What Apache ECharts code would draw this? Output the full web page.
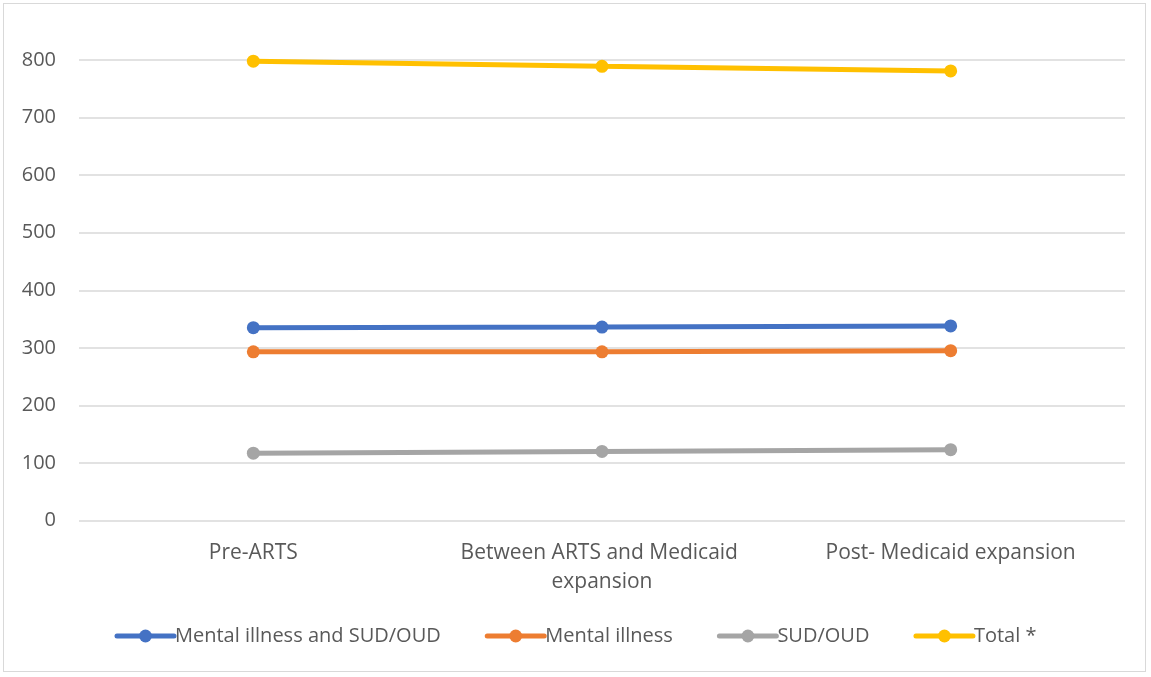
<!DOCTYPE html>
<html>
<head>
<meta charset="utf-8">
<script src="https://cdn.jsdelivr.net/npm/echarts@6/dist/echarts.min.js"></script>
<style>
  html, body { margin: 0; padding: 0; background: #fff; }
  #frame { position: absolute; left: 3px; top: 3px; width: 1143px; height: 669px; border: 1px solid #d9d9d9; box-sizing: border-box; }
  #chart { position: absolute; left: 0; top: 0; width: 1151px; height: 677px; }
</style>
</head>
<body>
<div id="frame"></div>
<div id="chart"></div>
<script>
// Periods compared
const periods = ['Pre-ARTS', 'Between ARTS and Medicaid expansion', 'Post- Medicaid expansion'];

// Counts per period for each group
const mentalIllnessAndSud = [335, 336, 338];
const mentalIllness = [293, 293, 295];
const sudOud = [117, 120, 123];
const total = [798, 789, 781];

const seriesNames = ['Mental illness and SUD/OUD', 'Mental illness', 'SUD/OUD', 'Total *'];
const seriesColors = ['#4472c4', '#ed7d31', '#a5a5a5', '#ffc000'];
const seriesData = [mentalIllnessAndSud, mentalIllness, sudOud, total];

const FONT = '"Open Sans", "Noto Sans", sans-serif';

const chart = echarts.init(document.getElementById('chart'), null, { renderer: 'canvas' });

chart.setOption({
  animation: false,
  textStyle: { fontFamily: FONT },
  grid: { left: 79, right: 26, top: 60, bottom: 156.5, containLabel: false },
  legend: {
    bottom: 26,
    left: 'center',
    itemWidth: 57,
    itemHeight: 16,
    itemGap: 44,
    textStyle: { color: '#595959', fontSize: 20, fontFamily: FONT, padding: [0, 0, 0, -4] },
    data: seriesNames.map((n, i) => ({
      name: n,
      lineStyle: { width: 5, color: seriesColors[i] },
      itemStyle: { color: seriesColors[i] }
    }))
  },
  xAxis: {
    type: 'category',
    data: periods,
    boundaryGap: true,
    axisLine: { show: false },
    axisTick: { show: false },
    axisLabel: {
      color: '#595959',
      fontSize: 21,
      margin: 18,
      lineHeight: 29,
      width: 300,
      overflow: 'break',
      interval: 0
    }
  },
  yAxis: {
    type: 'value',
    min: 0,
    max: 800,
    interval: 100,
    axisLine: { show: false },
    axisTick: { show: false },
    axisLabel: { color: '#595959', fontSize: 20, margin: 23 },
    splitLine: { lineStyle: { color: '#d9d9d9', width: 1.5 } }
  },
  series: seriesNames.map((name, i) => ({
    name: name,
    type: 'line',
    data: seriesData[i],
    symbol: 'circle',
    symbolSize: 13,
    itemStyle: { color: seriesColors[i] },
    lineStyle: { color: seriesColors[i], width: 5, cap: 'round' },
    z: 2 + i
  }))
});
</script>
</body>
</html>
